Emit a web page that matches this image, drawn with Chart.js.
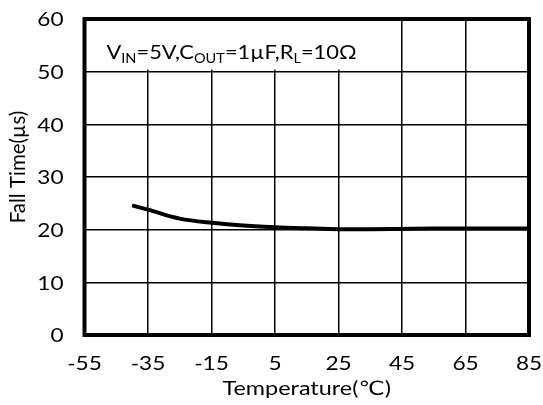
<!DOCTYPE html>
<html>
<head>
<meta charset="utf-8">
<script src="https://cdn.jsdelivr.net/npm/chart.js@4/dist/chart.umd.min.js"></script>
<style>
  html, body { margin: 0; padding: 0; background: #fff; }
  #wrap { width: 543px; height: 405px; }
</style>
</head>
<body>
<div id="wrap"><canvas id="fall"></canvas></div>
<script>
// Fall time vs temperature, one curve.
const temps = [-40, -35, -25, -15, -5, 5, 15, 25, 35, 45, 55, 65, 85];
const fallTime = [24.6, 23.8, 22.1, 21.3, 20.8, 20.45, 20.25, 20.1, 20.1, 20.15, 20.2, 20.2, 20.2];
const xTicks = [-55, -35, -15, 5, 25, 45, 65, 85];
const yTicks = [0, 10, 20, 30, 40, 50, 60];
const yTitle = "Fall Time(\u00b5s)";
const xTitle = "Temperature(\u2103)";
// condition note: [text, isSubscript]
const note = [["V", false], ["IN", true], ["=5V,C", false], ["OUT", true], ["=1\u00b5F,R", false], ["L", true], ["=10\u03a9", false]];

const FONT = "Lato, 'DejaVu Sans', sans-serif";
const SIZE = 19.5;
const WIDE = 1.16; // labels are set a little wider than the plain face

// draw a horizontally widened string anchored at (x, y)
function wideText(ctx, txt, x, y, align, k) {
  const w = ctx.measureText(txt).width * k;
  const x0 = align === "center" ? x - w / 2 : align === "right" ? x - w : x;
  ctx.save();
  ctx.translate(x0, y);
  ctx.scale(k, 1);
  ctx.textAlign = "left";
  ctx.fillText(txt, 0, 0);
  ctx.restore();
  return w;
}

// white note box, tick labels, titles and the heavy frame
const extras = {
  id: "extras",
  beforeDatasetsDraw(chart) {
    const { ctx, scales: { x, y } } = chart;
    const l = x.getPixelForValue(-55), r = x.getPixelForValue(43.3);
    const t = y.getPixelForValue(60), b = y.getPixelForValue(50.4);
    ctx.save();
    ctx.fillStyle = "#fff";
    ctx.fillRect(l, t, r - l, b - t);
    let cx = l + 22;
    const base = t + 40;
    ctx.fillStyle = "#000";
    ctx.textBaseline = "alphabetic";
    note.forEach(([txt, sub]) => {
      ctx.font = (sub ? "13px " : SIZE + "px ") + FONT;
      cx += wideText(ctx, txt, cx, sub ? base + 4 : base, "left", 1.12);
    });
    ctx.restore();
  },
  afterDraw(chart) {
    const { ctx, chartArea: a, scales: { x, y } } = chart;
    ctx.save();
    ctx.strokeStyle = "#000";
    ctx.lineWidth = 4;
    ctx.strokeRect(a.left, a.top, a.right - a.left, a.bottom - a.top);

    ctx.fillStyle = "#000";
    ctx.font = SIZE + "px " + FONT;
    ctx.textBaseline = "middle";
    x.ticks.forEach((tk) => wideText(ctx, String(tk.value), x.getPixelForValue(tk.value), a.bottom + 29, "center", WIDE));
    y.ticks.forEach((tk) => wideText(ctx, String(tk.value), a.left - 21, y.getPixelForValue(tk.value) + 1, "right", WIDE));
    wideText(ctx, xTitle, (a.left + a.right) / 2, 389, "center", 1.2);

    ctx.translate(18, 167);
    ctx.rotate(-Math.PI / 2);
    ctx.font = "20.5px " + FONT;
    ctx.textAlign = "center";
    ctx.fillText(yTitle, 0, 0);
    ctx.restore();
  }
};

new Chart(document.getElementById("fall"), {
  type: "line",
  data: {
    datasets: [{
      data: temps.map((t, i) => ({ x: t, y: fallTime[i] })),
      borderColor: "#000", borderWidth: 4,
      pointRadius: 0, cubicInterpolationMode: "monotone", fill: false,
    }]
  },
  options: {
    animation: false,
    responsive: true,
    maintainAspectRatio: false,
    layout: { padding: { left: 0, right: 14, top: 19, bottom: 0 } },
    plugins: { legend: { display: false }, tooltip: { enabled: false } },
    scales: {
      x: {
        type: "linear", min: -55, max: 85,
        afterBuildTicks: (s) => { s.ticks = xTicks.map((v) => ({ value: v })); },
        afterFit: (s) => { s.height = 70; },
        ticks: { display: false },
        grid: { color: "#000", lineWidth: 1.5, drawTicks: false },
        border: { display: false },
      },
      y: {
        min: 0, max: 60,
        afterBuildTicks: (s) => { s.ticks = yTicks.map((v) => ({ value: v })); },
        afterFit: (s) => { s.width = 84.5; },
        ticks: { display: false },
        grid: { color: "#000", lineWidth: 1.5, drawTicks: false },
        border: { display: false },
      },
    },
  },
  plugins: [extras],
});
</script>
</body>
</html>
